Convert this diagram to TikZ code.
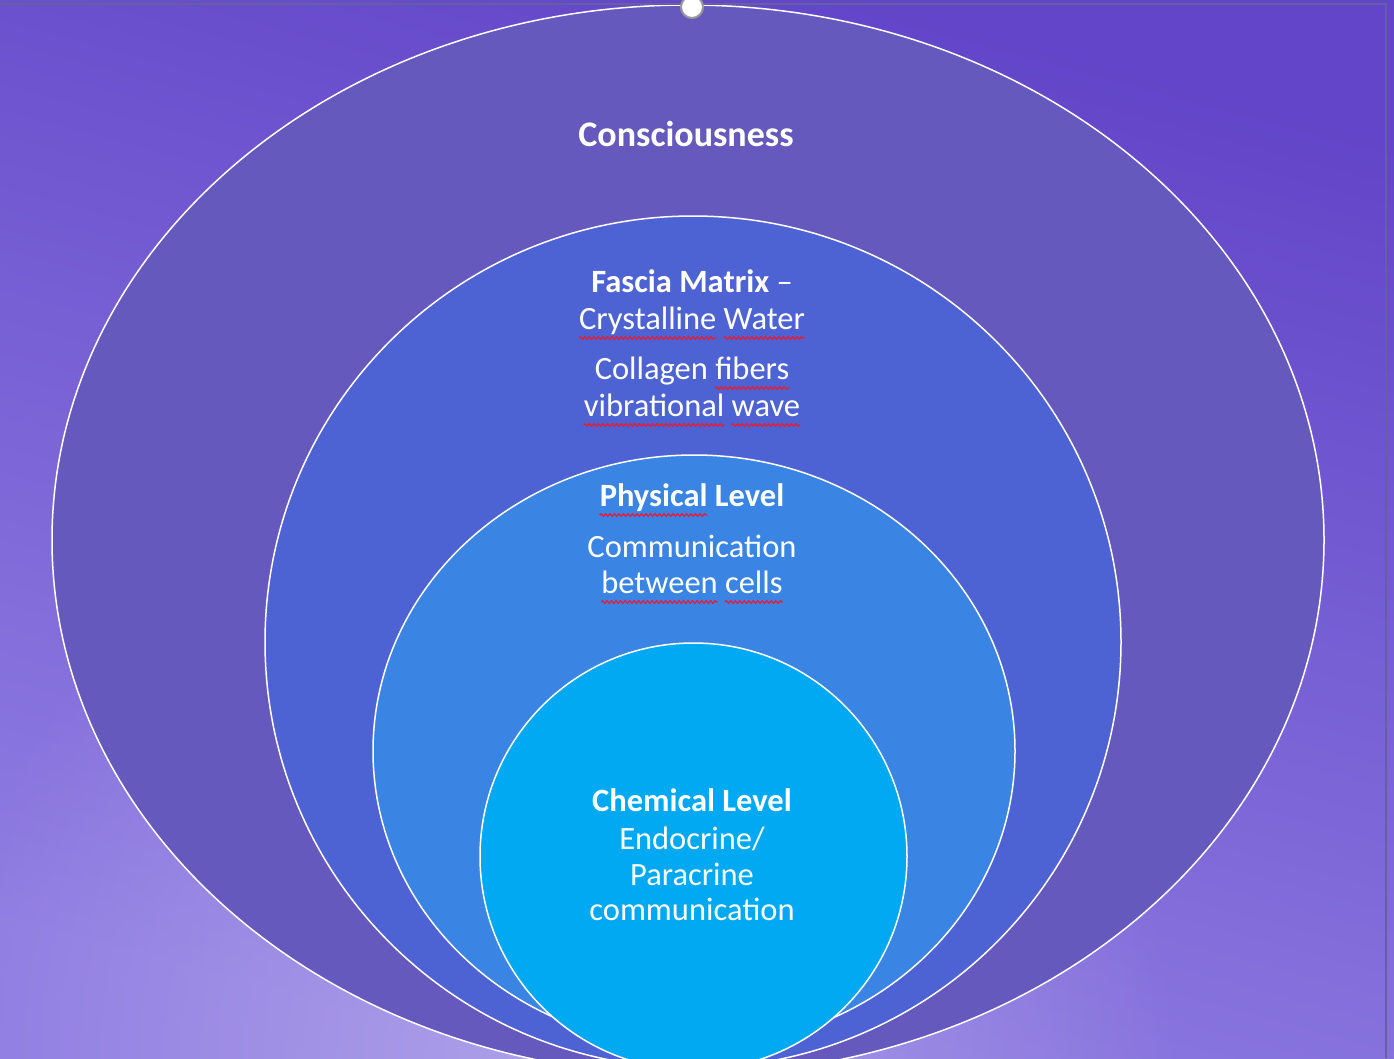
\documentclass[tikz,border=0pt]{standalone}
\usepackage{fontspec}
\setmainfont{Carlito}
\usetikzlibrary{fadings,decorations.pathmorphing}
\tikzfading[name=glowfade, inner color=transparent!0, outer color=transparent!100]
\definecolor{bgdark}{HTML}{6245C8}
\definecolor{bglight}{HTML}{8F7DE2}
\definecolor{bglav}{HTML}{B3A7EA}
\definecolor{consc}{HTML}{6659BD}
\definecolor{fascia}{HTML}{4E63D3}
\definecolor{phys}{HTML}{3A84E3}
\definecolor{chem}{HTML}{00A9F1}
\definecolor{spell}{HTML}{E0203A}
\definecolor{selline}{HTML}{66609E}
\begin{document}
\begin{tikzpicture}[x=1pt,y=-1pt,
  lvl/.style={draw=white, line width=1.5pt},
  txt/.style={text=white, anchor=base, inner sep=0pt, font=\fontsize{32.5}{37}\selectfont},
  ttl/.style={txt, font=\fontsize{32.5}{37}\selectfont\bfseries},
  wl/.style={inner sep=0pt, anchor=base west},
  wr/.style={inner sep=0pt, anchor=base east},
  wavy/.style={spell, line width=1.3pt, decorate, decoration={snake, amplitude=1.3pt, segment length=4.5pt}}]
\useasboundingbox (0,0) rectangle (1394,1058);
\begin{scope}
\clip (0,0) rectangle (1394,1058);
% background
\shade[top color=bgdark, bottom color=bglight, shading angle=-15] (0,0) rectangle (1394,1058);
\fill[bglav, path fading=glowfade, opacity=0.85] (560,1058) circle (620pt);
% levels
\draw[lvl, fill=consc] (688,540) ellipse [x radius=636pt, y radius=535pt];
\draw[lvl, fill=fascia] (693,642) ellipse [x radius=428pt, y radius=426pt];
\draw[lvl, fill=phys] (694,751) ellipse [x radius=321pt, y radius=296pt];
\draw[lvl, fill=chem] (693.5,856.5) circle [radius=213.5pt];
% selection frame
\draw[selline, line width=2pt] (0,4) -- (1386,4) -- (1386,1058);
\end{scope}
\node[circle, fill=white, draw=gray!80, line width=2pt, minimum size=22pt, inner sep=0pt] (handle) at (692,7) {};
% texts
\node[ttl, font=\fontsize{36}{40}\selectfont\bfseries] (t1) at (686,146) {Consciousness};
\node[ttl] (t2) at (692,292) {Fascia Matrix \mdseries –};
\node[txt] (t3) at (692,329) {Crystalline Water};
\node[txt] (t4) at (692,379) {Collagen fibers};
\node[txt] (t5) at (692,416) {vibrational wave};
\node[ttl] (t6) at (692,506) {Physical Level};
\node[txt] (t7) at (692,557) {Communication};
\node[txt] (t8) at (692,593) {between cells};
\node[ttl] (t9) at (692,811) {Chemical Level};
\node[txt] (t10) at (692,849) {Endocrine/};
\node[txt] (t11) at (692,885) {Paracrine};
\node[txt] (t12) at (692,920) {communication};
% spell-check marks
\node[txt, wl] (w3a) at (t3.base west) {\phantom{Crystalline}};
\node[txt, wr] (w3b) at (t3.base east) {\phantom{Water}};
\node[txt, wr] (w4) at (t4.base east) {\phantom{fibers}};
\node[txt, wl] (w5a) at (t5.base west) {\phantom{vibrational}};
\node[txt, wr] (w5b) at (t5.base east) {\phantom{wave}};
\node[ttl, wl] (w6) at (t6.base west) {\phantom{Physical}};
\node[txt, wl] (w8a) at (t8.base west) {\phantom{between}};
\node[txt, wr] (w8b) at (t8.base east) {\phantom{cells}};
\foreach \w in {w3a,w3b,w4,w5a,w5b,w6,w8a,w8b}
  \draw[wavy] ([yshift=-9pt]\w.base west) -- ([yshift=-9pt]\w.base east);
\end{tikzpicture}
\end{document}
